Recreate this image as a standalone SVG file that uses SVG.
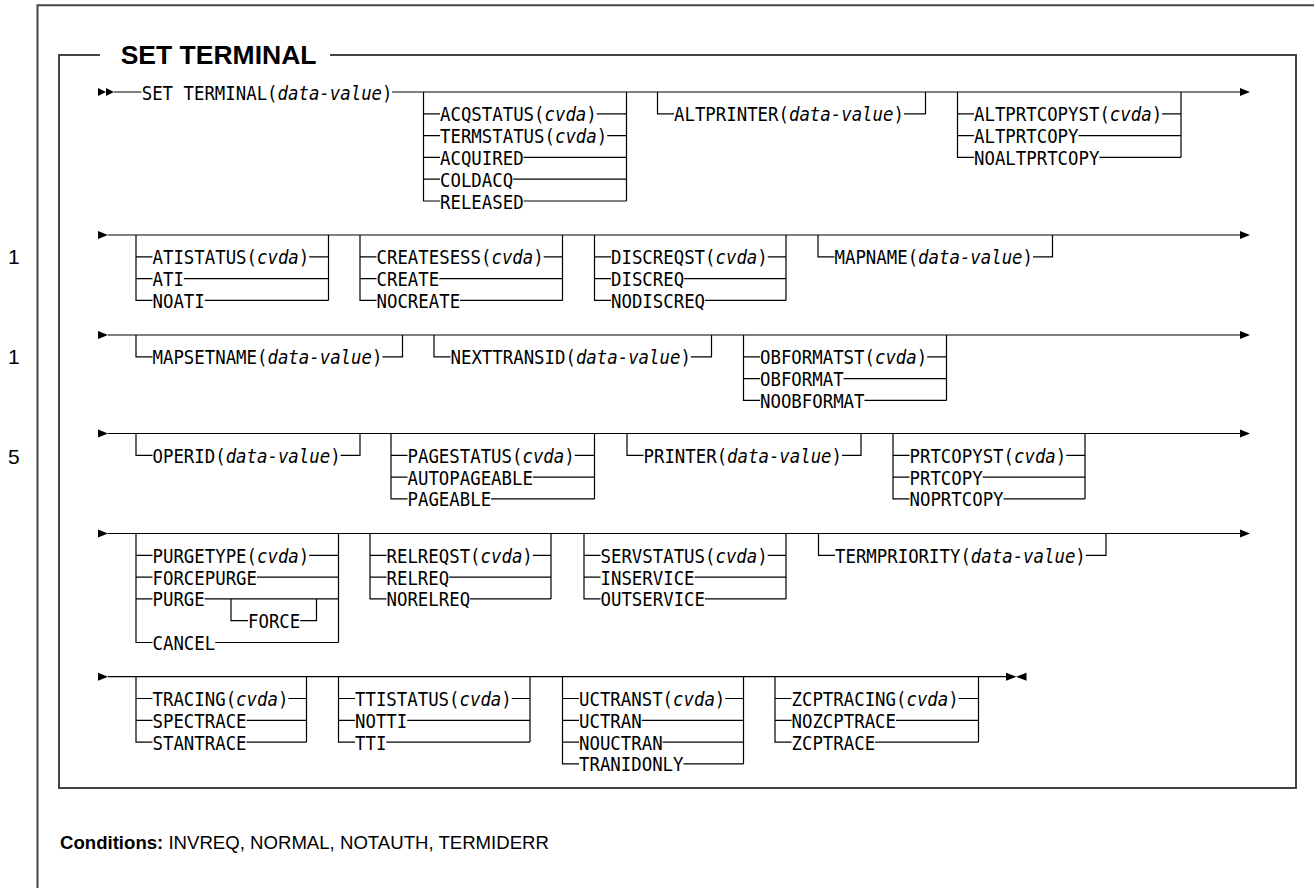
<svg xmlns="http://www.w3.org/2000/svg" width="1314" height="888" viewBox="0 0 1314 888">
<style>
.ln{fill:none;stroke:#000;stroke-width:1.2}
.fr{fill:none;stroke:#444;stroke-width:2}
.t{font-family:"DejaVu Sans Mono","Liberation Mono",monospace;font-size:20px;fill:#000}
.i{font-style:italic}
.ah{fill:#000}
.title{font-family:"Liberation Sans",Arial,sans-serif;font-weight:bold;font-size:26.5px;fill:#000}
.num{font-family:"Liberation Sans",Arial,sans-serif;font-size:21px;fill:#000}
.cond{font-family:"Liberation Sans",Arial,sans-serif;font-size:18.6px;fill:#000}
</style>
<rect width="1314" height="888" fill="#fff"/>
<g id="frame">
<path class="fr" d="M37.5,888V5.3H1314"/>
<path class="fr" d="M100,55H59V788H1296V55H330"/>
<text class="title" x="120.7" y="64">SET TERMINAL</text>
<text class="num" x="8" y="263.5">1</text>
<text class="num" x="8" y="363.5">1</text>
<text class="num" x="8" y="463.5">5</text>
<text class="cond" x="60" y="849"><tspan font-weight="bold">Conditions:</tspan> INVREQ, NORMAL, NOTAUTH, TERMIDERR</text>
</g>
<g id="connectors">
<polygon class="ah" points="98,88 106,92 98,96"/><polygon class="ah" points="106,88 114,92 106,96"/>
<path class="ln" d="M114,92H141.5 M392,92H1240"/>
<polygon class="ah" points="1240,88 1250,92 1240,96"/>
<polygon class="ah" points="98,231 108,235 98,239"/><path class="ln" d="M108,235H1240"/><polygon class="ah" points="1240,231 1250,235 1240,239"/>
<polygon class="ah" points="98,331 108,335 98,339"/><path class="ln" d="M108,335H1240"/><polygon class="ah" points="1240,331 1250,335 1240,339"/>
<polygon class="ah" points="98,429.5 108,433.5 98,437.5"/><path class="ln" d="M108,433.5H1240"/><polygon class="ah" points="1240,429.5 1250,433.5 1240,437.5"/>
<polygon class="ah" points="98,529.5 108,533.5 98,537.5"/><path class="ln" d="M108,533.5H1240"/><polygon class="ah" points="1240,529.5 1250,533.5 1240,537.5"/>
<polygon class="ah" points="98,672.7 108,676.7 98,680.7"/><path class="ln" d="M108,676.7H1006"/>
<polygon class="ah" points="1006,672.7 1016.5,676.7 1006,680.7"/><polygon class="ah" points="1026.5,672.7 1016,676.7 1026.5,680.7"/>
</g>
<g id="n-set-terminal"><text class="t" x="141.7" y="99.5" textLength="250.8" lengthAdjust="spacingAndGlyphs">SET TERMINAL(<tspan class="i">data-value</tspan>)</text></g>
<g id="n-acqstatus">
<path class="ln" d="M423.5,92V201H440 M626.5,92V201 M423.5,113.8H440 M596.8,113.8H626.5 M423.5,135.6H440 M607.2,135.6H626.5 M423.5,157.4H440 M523.6,157.4H626.5 M423.5,179.2H440 M513.2,179.2H626.5 M523.6,201H626.5"/>
<text class="t" x="440" y="121.3" textLength="156.75" lengthAdjust="spacingAndGlyphs">ACQSTATUS(<tspan class="i">cvda</tspan>)</text>
<text class="t" x="440" y="143.1" textLength="167.2" lengthAdjust="spacingAndGlyphs">TERMSTATUS(<tspan class="i">cvda</tspan>)</text>
<text class="t" x="440" y="164.9" textLength="83.6" lengthAdjust="spacingAndGlyphs">ACQUIRED</text>
<text class="t" x="440" y="186.7" textLength="73.15" lengthAdjust="spacingAndGlyphs">COLDACQ</text>
<text class="t" x="440" y="208.5" textLength="83.6" lengthAdjust="spacingAndGlyphs">RELEASED</text>
</g>
<g id="n-altprinter">
<path class="ln" d="M657.5,92V113.8H674 M903.9,113.8H925.5V92"/>
<text class="t" x="674" y="121.3" textLength="229.9" lengthAdjust="spacingAndGlyphs">ALTPRINTER(<tspan class="i">data-value</tspan>)</text>
</g>
<g id="n-altprtcopyst">
<path class="ln" d="M957.5,92V157.4H974 M1181,92V157.4 M957.5,113.8H974 M1162.1,113.8H1181 M957.5,135.6H974 M1078.5,135.6H1181 M1099.4,157.4H1181"/>
<text class="t" x="974" y="121.3" textLength="188.1" lengthAdjust="spacingAndGlyphs">ALTPRTCOPYST(<tspan class="i">cvda</tspan>)</text>
<text class="t" x="974" y="143.1" textLength="104.5" lengthAdjust="spacingAndGlyphs">ALTPRTCOPY</text>
<text class="t" x="974" y="164.9" textLength="125.4" lengthAdjust="spacingAndGlyphs">NOALTPRTCOPY</text>
</g>
<g id="n-atistatus">
<path class="ln" d="M136,235V300.4H152.5 M328.5,235V300.4 M136,256.8H152.5 M309.25,256.8H328.5 M136,278.6H152.5 M183.85,278.6H328.5 M204.75,300.4H328.5"/>
<text class="t" x="152.5" y="264.3" textLength="156.75" lengthAdjust="spacingAndGlyphs">ATISTATUS(<tspan class="i">cvda</tspan>)</text>
<text class="t" x="152.5" y="286.1" textLength="31.35" lengthAdjust="spacingAndGlyphs">ATI</text>
<text class="t" x="152.5" y="307.9" textLength="52.25" lengthAdjust="spacingAndGlyphs">NOATI</text>
</g>
<g id="n-createsess">
<path class="ln" d="M360,235V300.4H376.5 M562.5,235V300.4 M360,256.8H376.5 M543.7,256.8H562.5 M360,278.6H376.5 M439.2,278.6H562.5 M460.1,300.4H562.5"/>
<text class="t" x="376.5" y="264.3" textLength="167.2" lengthAdjust="spacingAndGlyphs">CREATESESS(<tspan class="i">cvda</tspan>)</text>
<text class="t" x="376.5" y="286.1" textLength="62.7" lengthAdjust="spacingAndGlyphs">CREATE</text>
<text class="t" x="376.5" y="307.9" textLength="83.6" lengthAdjust="spacingAndGlyphs">NOCREATE</text>
</g>
<g id="n-discreqst">
<path class="ln" d="M594.5,235V300.4H611 M786,235V300.4 M594.5,256.8H611 M767.75,256.8H786 M594.5,278.6H611 M684.15,278.6H786 M705.05,300.4H786"/>
<text class="t" x="611" y="264.3" textLength="156.75" lengthAdjust="spacingAndGlyphs">DISCREQST(<tspan class="i">cvda</tspan>)</text>
<text class="t" x="611" y="286.1" textLength="73.15" lengthAdjust="spacingAndGlyphs">DISCREQ</text>
<text class="t" x="611" y="307.9" textLength="94.05" lengthAdjust="spacingAndGlyphs">NODISCREQ</text>
</g>
<g id="n-mapname">
<path class="ln" d="M818,235V256.8H834.5 M1033.05,256.8H1052.5V235"/>
<text class="t" x="834.5" y="264.3" textLength="198.55" lengthAdjust="spacingAndGlyphs">MAPNAME(<tspan class="i">data-value</tspan>)</text>
</g>
<g id="n-mapsetname">
<path class="ln" d="M136,335V356.8H152.5 M382.4,356.8H402.5V335"/>
<text class="t" x="152.5" y="364.3" textLength="229.9" lengthAdjust="spacingAndGlyphs">MAPSETNAME(<tspan class="i">data-value</tspan>)</text>
</g>
<g id="n-nexttransid">
<path class="ln" d="M434,335V356.8H450.5 M690.85,356.8H711.5V335"/>
<text class="t" x="450.5" y="364.3" textLength="240.35" lengthAdjust="spacingAndGlyphs">NEXTTRANSID(<tspan class="i">data-value</tspan>)</text>
</g>
<g id="n-obformatst">
<path class="ln" d="M743.5,335V400.4H760 M946.5,335V400.4 M743.5,356.8H760 M927.2,356.8H946.5 M743.5,378.6H760 M843.6,378.6H946.5 M864.5,400.4H946.5"/>
<text class="t" x="760" y="364.3" textLength="167.2" lengthAdjust="spacingAndGlyphs">OBFORMATST(<tspan class="i">cvda</tspan>)</text>
<text class="t" x="760" y="386.1" textLength="83.6" lengthAdjust="spacingAndGlyphs">OBFORMAT</text>
<text class="t" x="760" y="407.9" textLength="104.5" lengthAdjust="spacingAndGlyphs">NOOBFORMAT</text>
</g>
<g id="n-operid">
<path class="ln" d="M136,433.5V455.3H152.5 M340.6,455.3H360V433.5"/>
<text class="t" x="152.5" y="462.8" textLength="188.1" lengthAdjust="spacingAndGlyphs">OPERID(<tspan class="i">data-value</tspan>)</text>
</g>
<g id="n-pagestatus">
<path class="ln" d="M391,433.5V498.9H407.5 M594.5,433.5V498.9 M391,455.3H407.5 M574.7,455.3H594.5 M391,477.1H407.5 M532.9,477.1H594.5 M491.1,498.9H594.5"/>
<text class="t" x="407.5" y="462.8" textLength="167.2" lengthAdjust="spacingAndGlyphs">PAGESTATUS(<tspan class="i">cvda</tspan>)</text>
<text class="t" x="407.5" y="484.6" textLength="125.4" lengthAdjust="spacingAndGlyphs">AUTOPAGEABLE</text>
<text class="t" x="407.5" y="506.4" textLength="83.6" lengthAdjust="spacingAndGlyphs">PAGEABLE</text>
</g>
<g id="n-printer">
<path class="ln" d="M627,433.5V455.3H643.5 M842.05,455.3H861V433.5"/>
<text class="t" x="643.5" y="462.8" textLength="198.55" lengthAdjust="spacingAndGlyphs">PRINTER(<tspan class="i">data-value</tspan>)</text>
</g>
<g id="n-prtcopyst">
<path class="ln" d="M893,433.5V498.9H909.5 M1085,433.5V498.9 M893,455.3H909.5 M1066.25,455.3H1085 M893,477.1H909.5 M982.65,477.1H1085 M1003.55,498.9H1085"/>
<text class="t" x="909.5" y="462.8" textLength="156.75" lengthAdjust="spacingAndGlyphs">PRTCOPYST(<tspan class="i">cvda</tspan>)</text>
<text class="t" x="909.5" y="484.6" textLength="73.15" lengthAdjust="spacingAndGlyphs">PRTCOPY</text>
<text class="t" x="909.5" y="506.4" textLength="94.05" lengthAdjust="spacingAndGlyphs">NOPRTCOPY</text>
</g>
<g id="n-purgetype">
<path class="ln" d="M136,533.5V642.5H152.5 M338.5,533.5V642.5 M136,555.3H152.5 M309.25,555.3H338.5 M136,577.1H152.5 M257,577.1H338.5 M136,598.9H152.5 M204.75,598.9H338.5 M215.2,642.5H338.5 M231,598.9V620.7H248 M300.25,620.7H316.5V598.9"/>
<text class="t" x="152.5" y="562.8" textLength="156.75" lengthAdjust="spacingAndGlyphs">PURGETYPE(<tspan class="i">cvda</tspan>)</text>
<text class="t" x="152.5" y="584.6" textLength="104.5" lengthAdjust="spacingAndGlyphs">FORCEPURGE</text>
<text class="t" x="152.5" y="606.4" textLength="52.25" lengthAdjust="spacingAndGlyphs">PURGE</text>
<text class="t" x="248" y="628.2" textLength="52.25" lengthAdjust="spacingAndGlyphs">FORCE</text>
<text class="t" x="152.5" y="650" textLength="62.7" lengthAdjust="spacingAndGlyphs">CANCEL</text>
</g>
<g id="n-relreqst">
<path class="ln" d="M370,533.5V598.9H386.5 M551,533.5V598.9 M370,555.3H386.5 M532.8,555.3H551 M370,577.1H386.5 M449.2,577.1H551 M470.1,598.9H551"/>
<text class="t" x="386.5" y="562.8" textLength="146.3" lengthAdjust="spacingAndGlyphs">RELREQST(<tspan class="i">cvda</tspan>)</text>
<text class="t" x="386.5" y="584.6" textLength="62.7" lengthAdjust="spacingAndGlyphs">RELREQ</text>
<text class="t" x="386.5" y="606.4" textLength="83.6" lengthAdjust="spacingAndGlyphs">NORELREQ</text>
</g>
<g id="n-servstatus">
<path class="ln" d="M584,533.5V598.9H600.5 M786,533.5V598.9 M584,555.3H600.5 M767.7,555.3H786 M584,577.1H600.5 M694.55,577.1H786 M705,598.9H786"/>
<text class="t" x="600.5" y="562.8" textLength="167.2" lengthAdjust="spacingAndGlyphs">SERVSTATUS(<tspan class="i">cvda</tspan>)</text>
<text class="t" x="600.5" y="584.6" textLength="94.05" lengthAdjust="spacingAndGlyphs">INSERVICE</text>
<text class="t" x="600.5" y="606.4" textLength="104.5" lengthAdjust="spacingAndGlyphs">OUTSERVICE</text>
</g>
<g id="n-termpriority">
<path class="ln" d="M818.5,533.5V555.3H835 M1085.8,555.3H1106V533.5"/>
<text class="t" x="835" y="562.8" textLength="250.8" lengthAdjust="spacingAndGlyphs">TERMPRIORITY(<tspan class="i">data-value</tspan>)</text>
</g>
<g id="n-tracing">
<path class="ln" d="M136,676.7V742.1H152.5 M306.5,676.7V742.1 M136,698.5H152.5 M288.35,698.5H306.5 M136,720.3H152.5 M246.55,720.3H306.5 M246.55,742.1H306.5"/>
<text class="t" x="152.5" y="706" textLength="135.85" lengthAdjust="spacingAndGlyphs">TRACING(<tspan class="i">cvda</tspan>)</text>
<text class="t" x="152.5" y="727.8" textLength="94.05" lengthAdjust="spacingAndGlyphs">SPECTRACE</text>
<text class="t" x="152.5" y="749.6" textLength="94.05" lengthAdjust="spacingAndGlyphs">STANTRACE</text>
</g>
<g id="n-ttistatus">
<path class="ln" d="M338.5,676.7V742.1H355 M530,676.7V742.1 M338.5,698.5H355 M511.75,698.5H530 M338.5,720.3H355 M407.25,720.3H530 M386.35,742.1H530"/>
<text class="t" x="355" y="706" textLength="156.75" lengthAdjust="spacingAndGlyphs">TTISTATUS(<tspan class="i">cvda</tspan>)</text>
<text class="t" x="355" y="727.8" textLength="52.25" lengthAdjust="spacingAndGlyphs">NOTTI</text>
<text class="t" x="355" y="749.6" textLength="31.35" lengthAdjust="spacingAndGlyphs">TTI</text>
</g>
<g id="n-uctranst">
<path class="ln" d="M562.5,676.7V763.9H579 M743.5,676.7V763.9 M562.5,698.5H579 M725.3,698.5H743.5 M562.5,720.3H579 M641.7,720.3H743.5 M562.5,742.1H579 M662.6,742.1H743.5 M683.5,763.9H743.5"/>
<text class="t" x="579" y="706" textLength="146.3" lengthAdjust="spacingAndGlyphs">UCTRANST(<tspan class="i">cvda</tspan>)</text>
<text class="t" x="579" y="727.8" textLength="62.7" lengthAdjust="spacingAndGlyphs">UCTRAN</text>
<text class="t" x="579" y="749.6" textLength="83.6" lengthAdjust="spacingAndGlyphs">NOUCTRAN</text>
<text class="t" x="579" y="771.4" textLength="104.5" lengthAdjust="spacingAndGlyphs">TRANIDONLY</text>
</g>
<g id="n-zcptracing">
<path class="ln" d="M775,676.7V742.1H791.5 M978.5,676.7V742.1 M775,698.5H791.5 M958.7,698.5H978.5 M775,720.3H791.5 M896,720.3H978.5 M875.1,742.1H978.5"/>
<text class="t" x="791.5" y="706" textLength="167.2" lengthAdjust="spacingAndGlyphs">ZCPTRACING(<tspan class="i">cvda</tspan>)</text>
<text class="t" x="791.5" y="727.8" textLength="104.5" lengthAdjust="spacingAndGlyphs">NOZCPTRACE</text>
<text class="t" x="791.5" y="749.6" textLength="83.6" lengthAdjust="spacingAndGlyphs">ZCPTRACE</text>
</g>
</svg>
